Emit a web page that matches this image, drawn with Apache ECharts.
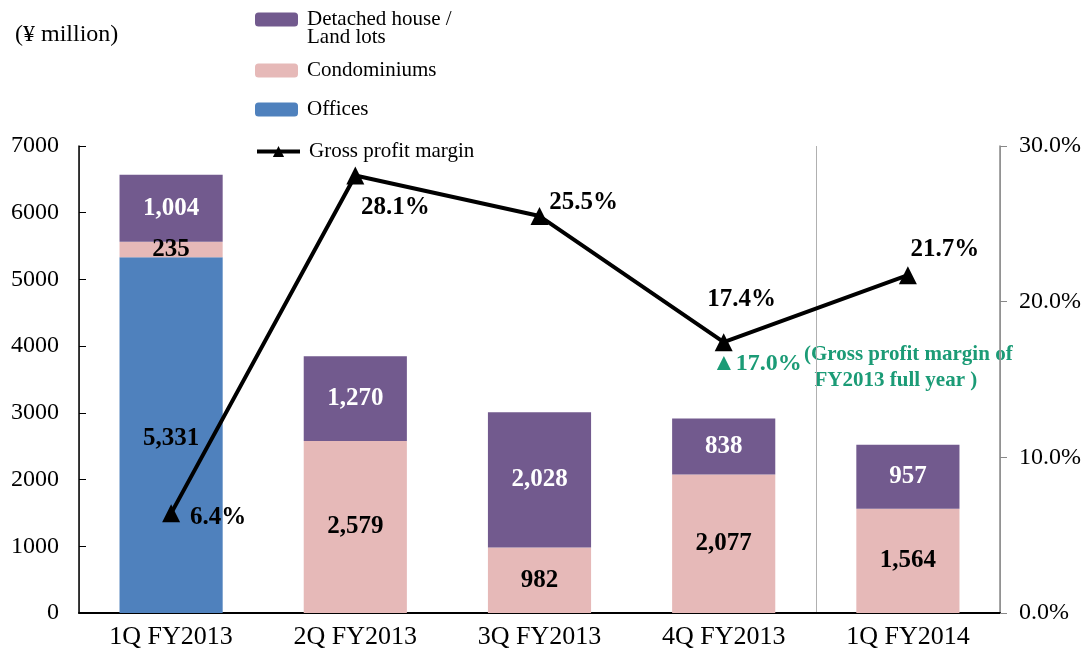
<!DOCTYPE html>
<html>
<head>
<meta charset="utf-8">
<script src="https://cdn.jsdelivr.net/npm/echarts@6/dist/echarts.min.js"></script>
<style>
html,body{margin:0;padding:0;background:#fff;}
#main{width:1087px;height:653px;}
</style>
</head>
<body>
<div id="main"></div>
<script>
const categories = ['1Q FY2013', '2Q FY2013', '3Q FY2013', '4Q FY2013', '1Q FY2014'];
const offices = [5331, 0, 0, 0, 0];
const condominiums = [235, 2579, 982, 2077, 1564];
const detached = [1004, 1270, 2028, 838, 957];
const totals = [6570, 3850, 3010, 2916, 2522];
const grossMargin = [6.4, 28.1, 25.5, 17.4, 21.7];
const leftTicks = [0, 1000, 2000, 3000, 4000, 5000, 6000, 7000];
const rightTicks = [0, 10, 20, 30];

const FONT = '"Liberation Serif", "Times New Roman", serif';
const fmt = v => v.toLocaleString('en-US');

const chart = echarts.init(document.getElementById('main'));

const marginLabelOffset = [[47, 4], [40, 32], [44, -14], [18, -43], [37, -26]];

const legendBase = {
  orient: 'vertical', left: 250, itemWidth: 43, itemHeight: 14,
  textStyle: {fontFamily: FONT, fontSize: 21, color: '#000', padding: [0, 0, 0, 4]},
  selectedMode: false
};

chart.setOption({
  animation: false,
  backgroundColor: '#fff',
  textStyle: {fontFamily: FONT},
  title: {
    text: '(¥ million)', left: 10, top: 18,
    textStyle: {fontFamily: FONT, fontSize: 24, fontWeight: 'normal', color: '#000'}
  },
  legend: [
    Object.assign({}, legendBase, {top: 4, data: ['Detached house /\nLand lots'],
      formatter: () => 'Detached house /'}),
    Object.assign({}, legendBase, {top: 55, data: ['Condominiums']}),
    Object.assign({}, legendBase, {top: 94, data: ['Offices']}),
    Object.assign({}, legendBase, {top: 136, data: ['Gross profit margin'],
      lineStyle: {width: 4, color: '#000'}, itemStyle: {color: '#000'}})
  ],
  grid: {left: 79, right: 87, top: 146, bottom: 40, containLabel: false},
  xAxis: [
    {
      type: 'category', data: categories,
      axisLine: {lineStyle: {color: '#000', width: 2}},
      axisTick: {show: false},
      axisLabel: {fontFamily: FONT, fontSize: 26, color: '#000', margin: 11},
      splitLine: {show: false}
    },
    {
      type: 'value', min: 0, max: 5, interval: 4, position: 'bottom',
      axisLine: {show: false}, axisTick: {show: false}, axisLabel: {show: false},
      splitLine: {show: true, lineStyle: {color: '#b0b0b0', width: 1}}
    }
  ],
  yAxis: [
    {
      type: 'value', min: 0, max: 7000, interval: 1000,
      axisLine: {show: true, lineStyle: {color: '#000', width: 1.5}},
      axisTick: {show: true, inside: true, length: 7, lineStyle: {color: '#000'}},
      axisLabel: {fontFamily: FONT, fontSize: 24, color: '#000', margin: 20,
        formatter: v => leftTicks.includes(v) ? String(v) : ''},
      splitLine: {show: false}
    },
    {
      type: 'value', min: 0, max: 30, interval: 10, position: 'right',
      axisLine: {show: true, lineStyle: {color: '#888', width: 1.5}},
      axisTick: {show: true, length: 7, lineStyle: {color: '#888'}},
      axisLabel: {fontFamily: FONT, fontSize: 24, color: '#000', margin: 19,
        formatter: v => rightTicks.includes(v) ? v.toFixed(1) + '%' : ''},
      splitLine: {show: false}
    }
  ],
  series: [
    {
      name: 'Offices', type: 'bar', stack: 'a', barWidth: '56%', data: offices,
      itemStyle: {color: '#4f81bd'},
      label: {show: true, position: 'inside', offset: [0, 3], fontFamily: FONT, fontSize: 25, fontWeight: 'bold', color: '#000',
        formatter: p => p.value ? fmt(p.value) : ''}
    },
    {
      name: 'Condominiums', type: 'bar', stack: 'a', data: condominiums,
      itemStyle: {color: '#e6b9b8'},
      label: {show: true, position: 'inside', fontFamily: FONT, fontSize: 25, fontWeight: 'bold', color: '#000',
        formatter: p => fmt(p.value)}
    },
    {
      name: 'Detached house /\nLand lots', type: 'bar', stack: 'a', data: detached,
      itemStyle: {color: '#725a8e'},
      label: {show: true, position: 'inside', fontFamily: FONT, fontSize: 25, fontWeight: 'bold', color: '#fff',
        formatter: p => fmt(p.value)}
    },
    {
      name: 'totals', type: 'scatter', data: totals, symbolSize: 1,
      itemStyle: {opacity: 0}, silent: true,
      label: {show: true, position: 'top', distance: 5, fontFamily: FONT, fontSize: 25, fontWeight: 'bold', color: '#000',
        formatter: p => fmt(p.value)}
    },
    {
      name: 'Gross profit margin', type: 'line', yAxisIndex: 1,
      data: grossMargin.map((v, i) => ({value: v, label: {position: 'inside', offset: marginLabelOffset[i]}})),
      symbol: 'triangle', symbolSize: 18, showSymbol: true,
      lineStyle: {color: '#000', width: 4}, itemStyle: {color: '#000'},
      label: {show: true, fontFamily: FONT, fontSize: 25, fontWeight: 'bold', color: '#000',
        formatter: p => p.value.toFixed(1) + '%'},
      z: 5
    }
  ],
  graphic: [
    {type: 'text', left: 307, top: 27,
      style: {text: 'Land lots', fontFamily: FONT, fontSize: 21, fill: '#000'}},
    {type: 'text', left: 712, top: 352,
      style: {text: '▲17.0%', fontFamily: FONT, fontSize: 24, fontWeight: 'bold', fill: '#1b9b76'}},
    {type: 'text', left: 804, top: 342,
      style: {text: '(Gross profit margin of\n  FY2013 full year )', fontFamily: FONT, fontSize: 21, fontWeight: 'bold',
        fill: '#1b9b76', lineHeight: 26}}
  ]
});
</script>
</body>
</html>
